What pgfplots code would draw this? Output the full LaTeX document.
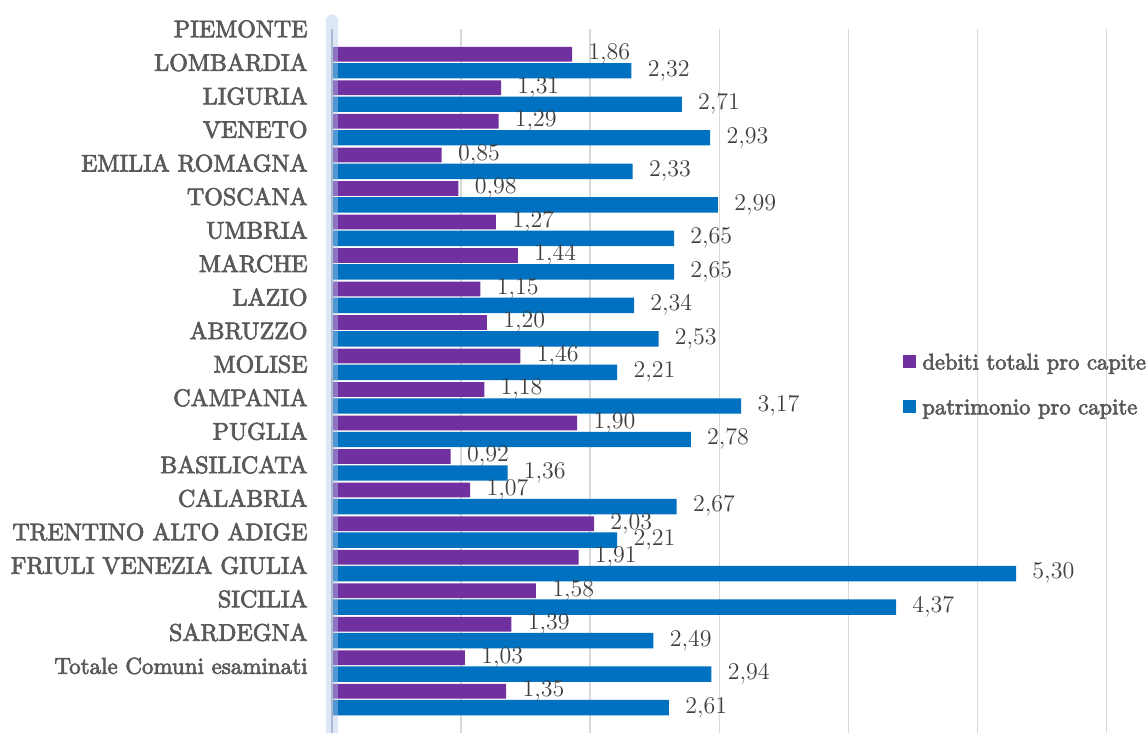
\documentclass[border=0pt]{standalone}
\usepackage{fontspec}
\usepackage{pgfplots}
\pgfplotsset{compat=1.18}
\usepackage{pgfplotstable}
\newfontfamily\lblfont[FakeBold=3]{lmroman10-regular.otf}
\definecolor{cpurple}{HTML}{7030A0}
\definecolor{cblue}{HTML}{0070C0}
\definecolor{lblgray}{HTML}{595959}
\definecolor{numgray}{HTML}{404040}
\definecolor{gridgray}{HTML}{D9D9D9}
\definecolor{glow}{HTML}{B4C7E7}

\pgfplotstableread{
g deb pat
0 1.86 2.32
1 1.31 2.71
2 1.29 2.93
3 0.85 2.33
4 0.98 2.99
5 1.27 2.65
6 1.44 2.65
7 1.15 2.34
8 1.20 2.53
9 1.46 2.21
10 1.18 3.17
11 1.90 2.78
12 0.92 1.36
13 1.07 2.67
14 2.03 2.21
15 1.91 5.30
16 1.58 4.37
17 1.39 2.49
18 1.03 2.94
19 1.35 2.61
}\datatable

\begin{document}
\begin{tikzpicture}
\begin{axis}[
  scale only axis, width=404pt, height=352pt,
  xmin=0, xmax=6.26, ymin=-1, ymax=20, y dir=reverse,
  xbar, bar width=0.44,
  xtick={1,2,3,4,5,6}, xticklabels={},
  xmajorgrids, grid style={gridgray, line width=0.7pt},
  ytick={-1,0,...,18},
  yticklabels={PIEMONTE,LOMBARDIA,LIGURIA,VENETO,EMILIA ROMAGNA,TOSCANA,UMBRIA,MARCHE,LAZIO,ABRUZZO,MOLISE,CAMPANIA,PUGLIA,BASILICATA,CALABRIA,TRENTINO ALTO ADIGE,FRIULI VENEZIA GIULIA,SICILIA,SARDEGNA,{\fontsize{11.5}{13}\selectfont Totale Comuni esaminati}},
  yticklabel style={font=\lblfont\fontsize{12}{13}\selectfont, text=lblgray, inner sep=0pt, xshift=-12pt},
  major tick length=0pt,
  axis line style={draw=none},
  clip=false,
  point meta=x,
  nodes near coords={\pgfmathprintnumber[fixed,fixed zerofill,precision=2,use comma]{\pgfplotspointmeta}},
  every node near coord/.append style={font=\fontsize{11.6}{13}\selectfont, text=numgray, anchor=west, inner sep=0pt, xshift=8pt},
  legend image code/.code={\fill[#1] (0pt,-3.25pt) rectangle (6.5pt,3.25pt);},
  legend cell align=left,
  legend style={at={(0.7067,0.4957)}, anchor=west, draw=none, fill=none, inner sep=0pt,
    row sep=15pt, column sep=3pt, nodes={inner sep=0pt, text depth=0pt},
    font=\lblfont\fontsize{11.3}{13}\selectfont, text=lblgray},
]
\addplot[fill=cpurple, draw=none, bar shift=0pt] table[x=deb, y expr=\thisrow{g}-0.245] {\datatable};
\addlegendentry{debiti totali pro capite}
\addplot[fill=cblue, draw=none, bar shift=0pt, bar width=0.46] table[x=pat, y expr=\thisrow{g}+0.245] {\datatable};
\addlegendentry{patrimonio pro capite}
\draw[glow, line width=6pt, opacity=0.45, line cap=round] (axis cs:0,-1.25) -- (axis cs:0,20.2);
\draw[glow!80!gray, line width=1pt] (axis cs:0,-1) -- (axis cs:0,20.2);
\end{axis}
\pgfresetboundingbox
\path[use as bounding box] (-166pt,0pt) rectangle (408pt,366.5pt);
\end{tikzpicture}
\end{document}
